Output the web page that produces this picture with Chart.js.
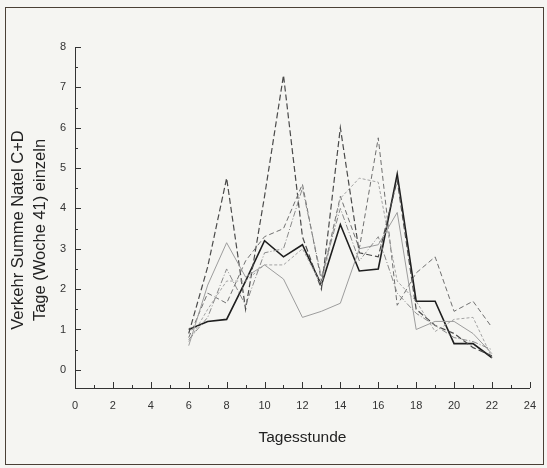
<!DOCTYPE html>
<html>
<head>
<meta charset="utf-8">
<script src="https://cdn.jsdelivr.net/npm/chart.js@4"></script>
<style>
  html, body { margin: 0; padding: 0; background: #f5f5f2; }
  #wrap { position: relative; width: 547px; height: 468px; }
  #frame { position: absolute; left: 5px; top: 7px; width: 539px; height: 458px;
           border: 1px solid #4a4036; box-sizing: border-box; }
</style>
</head>
<body>
<div id="wrap">
  <div id="frame"></div>
  <canvas id="myChart" width="547" height="468"></canvas>
</div>
<script>
// hours of the day
var hours = [6, 7, 8, 9, 10, 11, 12, 13, 14, 15, 16, 17, 18, 19, 20, 21, 22];

// traffic per day (week 41)
var day1 = [1.0, 1.2, 1.25, 2.2, 3.2, 2.8, 3.1, 2.1, 3.6, 2.45, 2.5, 4.85, 1.7, 1.7, 0.65, 0.65, 0.3];
var day2 = [0.9, 2.55, 4.75, 1.5, 4.3, 7.3, 3.3, 2.0, 6.0, 2.9, 2.8, 4.7, 1.5, 1.1, 0.9, 0.55, 0.35];
var day3 = [0.8, 1.9, 1.65, 2.7, 3.3, 3.5, 4.6, 2.2, 4.3, 3.0, 5.75, 1.6, 2.4, 2.8, 1.45, 1.7, 1.05];
var day4 = [0.6, 2.1, 3.15, 2.3, 2.6, 2.25, 1.3, 1.45, 1.65, 3.0, 3.1, 3.9, 1.0, 1.2, 1.2, 0.9, 0.4];
var day5 = [0.7, 1.5, 2.2, 2.2, 2.6, 2.6, 3.0, 2.1, 4.25, 4.75, 4.65, 2.2, 1.7, 0.95, 1.25, 1.3, 0.3];
var day6 = [0.75, 1.3, 2.5, 1.6, 2.9, 3.0, 4.5, 2.3, 4.0, 2.7, 3.3, 1.9, 1.4, 1.1, 0.8, 0.7, 0.5];

var yTicks = [0, 1, 2, 3, 4, 5, 6, 7, 8];
var yTitle = ['Verkehr Summe Natel C+D', 'Tage (Woche 41) einzeln'];

function pts(vals) {
    return vals.map(function (v, i) { return { x: hours[i], y: v }; });
}

// small inward tick marks and the two-line y title, like the original plot
var innerTicks = {
    id: 'innerTicks',
    afterDraw: function (chart) {
        var ctx = chart.ctx;
        var xs = chart.scales.x, ys = chart.scales.y;
        var area = chart.chartArea;
        ctx.save();
        ctx.strokeStyle = '#333';
        ctx.lineWidth = 1;
        ctx.beginPath();
        for (var h = 0; h <= 24; h++) {
            var px = Math.round(xs.getPixelForValue(h)) + 0.5;
            var len = (h % 2 == 0) ? 6 : 3;
            ctx.moveTo(px, area.bottom);
            ctx.lineTo(px, area.bottom - len);
        }
        for (var v = 0; v <= 16; v++) {
            var py = Math.round(ys.getPixelForValue(v / 2)) + 0.5;
            var l = (v % 2 == 0) ? 6 : 3;
            ctx.moveTo(area.left, py);
            ctx.lineTo(area.left + l, py);
        }
        ctx.stroke();

        ctx.fillStyle = '#222';
        ctx.font = '16.5px "Liberation Sans"';
        ctx.textAlign = 'center';
        ctx.textBaseline = 'middle';
        ctx.translate(18, 230);
        ctx.rotate(-Math.PI / 2);
        ctx.fillText(yTitle[0], 0, 0);
        ctx.fillText(yTitle[1], 0, 22);
        ctx.restore();
    }
};

var canvas = document.getElementById('myChart');
var myChart = new Chart(canvas, {
    type: 'line',
    data: {
        datasets: [
            { data: pts(day6), borderColor: '#8a8a8a', borderWidth: 1, borderDash: [6, 2, 1, 2] },
            { data: pts(day5), borderColor: '#a3a3a3', borderWidth: 1, borderDash: [3, 2] },
            { data: pts(day4), borderColor: '#9c9c9c', borderWidth: 1 },
            { data: pts(day3), borderColor: '#6f6f6f', borderWidth: 1, borderDash: [5, 3] },
            { data: pts(day2), borderColor: '#4a4a4a', borderWidth: 1.2, borderDash: [6, 3] },
            { data: pts(day1), borderColor: '#1e1e1e', borderWidth: 1.6 }
        ]
    },
    options: {
        responsive: false,
        animation: false,
        layout: { padding: { left: 0, top: 47, right: 12, bottom: 0 } },
        elements: { point: { radius: 0 }, line: { tension: 0 } },
        plugins: { legend: { display: false }, tooltip: { enabled: false } },
        scales: {
            x: {
                type: 'linear',
                min: 0,
                max: 24,
                grid: { display: false, drawTicks: false },
                border: { display: true, color: '#333', width: 1 },
                ticks: {
                    stepSize: 2,
                    padding: 11,
                    color: '#333',
                    font: { family: 'Liberation Sans', size: 11 }
                },
                title: {
                    display: true,
                    text: 'Tagesstunde',
                    color: '#222',
                    padding: { top: 4, bottom: 21 },
                    font: { family: 'Liberation Sans', size: 15.5 }
                },
                afterFit: function (scale) { scale.height = 80; }
            },
            y: {
                min: -0.45,
                max: 8,
                grid: { display: false, drawTicks: false },
                border: { display: true, color: '#333', width: 1 },
                afterBuildTicks: function (scale) {
                    scale.ticks = yTicks.map(function (v) { return { value: v }; });
                },
                ticks: {
                    padding: 9,
                    color: '#333',
                    font: { family: 'Liberation Sans', size: 11 }
                },
                afterFit: function (scale) { scale.width = 75; }
            }
        }
    },
    plugins: [innerTicks]
});
</script>
</body>
</html>
